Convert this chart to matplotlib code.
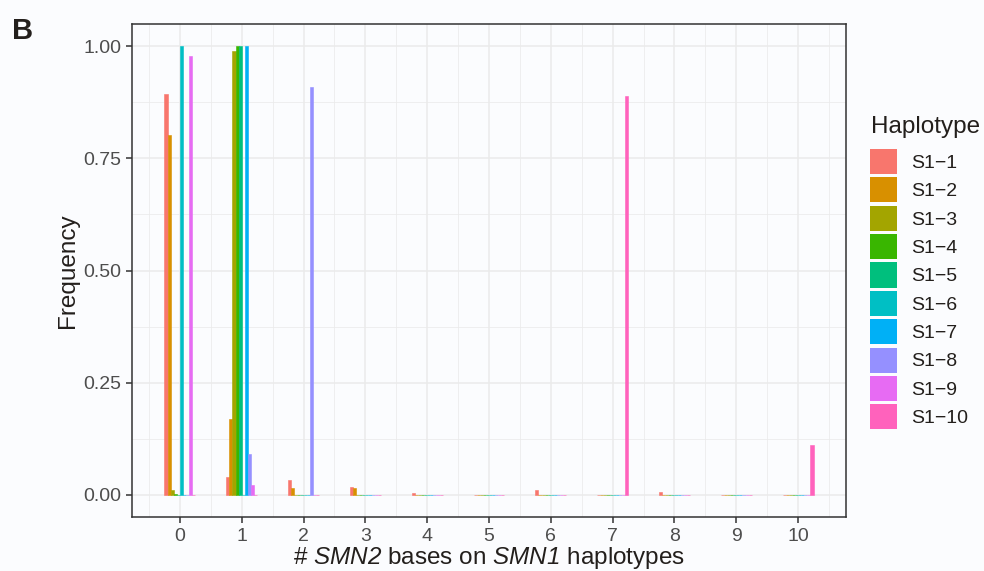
import numpy as np
import matplotlib
matplotlib.use("Agg")
import matplotlib.pyplot as plt
from matplotlib.patches import Patch
from matplotlib.ticker import MultipleLocator

plt.rcParams['font.family'] = ['Liberation Sans', 'DejaVu Sans']
plt.rcParams['mathtext.fontset'] = 'custom'
# italic gene names (digits included)
plt.rcParams['mathtext.rm'] = 'Liberation Sans:italic'
plt.rcParams['mathtext.it'] = 'Liberation Sans:italic'

# number of SMN2 bases (x positions)
n_bases = [0, 1, 2, 3, 4, 5, 6, 7, 8, 9, 10]

haplotypes = ['S1\u22121', 'S1\u22122', 'S1\u22123', 'S1\u22124', 'S1\u22125',
              'S1\u22126', 'S1\u22127', 'S1\u22128', 'S1\u22129', 'S1\u221210']

# frequency of each haplotype at each base count
s1_1 = [0.894, 0.039, 0.032, 0.017, 0.003, 0.0, 0.010, 0.0, 0.005, 0.0, 0.0]
s1_2 = [0.802, 0.168, 0.0145, 0.0145, 0.0, 0.0, 0.0, 0.0, 0.0, 0.0, 0.0]
s1_3 = [0.010, 0.990, 0.0, 0.0, 0.0, 0.0, 0.0, 0.0, 0.0, 0.0, 0.0]
s1_4 = [0.002, 1.000, 0.0, 0.0, 0.0, 0.0, 0.0, 0.0, 0.0, 0.0, 0.0]
s1_5 = [0.0, 1.000, 0.0, 0.0, 0.0, 0.0, 0.0, 0.0, 0.0, 0.0, 0.0]
s1_6 = [1.000, 0.0, 0.0, 0.0, 0.0, 0.0, 0.0, 0.0, 0.0, 0.0, 0.0]
s1_7 = [0.0, 1.000, 0.0, 0.0, 0.0, 0.0, 0.0, 0.0, 0.0, 0.0, 0.0]
s1_8 = [0.0, 0.090, 0.910, 0.0, 0.0, 0.0, 0.0, 0.0, 0.0, 0.0, 0.0]
s1_9 = [0.978, 0.021, 0.0, 0.0, 0.0, 0.0, 0.0, 0.0, 0.0, 0.0, 0.0]
s1_10 = [0.0, 0.0, 0.0, 0.0, 0.0, 0.0, 0.0, 0.889, 0.0, 0.0, 0.110]

freqs = [s1_1, s1_2, s1_3, s1_4, s1_5, s1_6, s1_7, s1_8, s1_9, s1_10]

colors = ['#F8766D', '#D89000', '#A3A500', '#39B600', '#00BF7D',
          '#00BFC4', '#00B0F6', '#9590FF', '#E76BF3', '#FF62BC']

bg = '#FBFCFE'
txt = '#231F1C'

fig = plt.figure(figsize=(9.84, 5.71), dpi=100, facecolor=bg)
ax = fig.add_axes([132 / 984, 54 / 571, 714 / 984, 493 / 571])
ax.set_facecolor(bg)

dodge = 0.5
w = dodge / len(haplotypes)
x = np.array(n_bases, dtype=float)
for i, (lab, vals) in enumerate(zip(haplotypes, freqs)):
    off = -dodge / 2 + w * (i + 0.5)
    ax.bar(x + off, vals, width=w, color=colors[i], edgecolor=colors[i],
           linewidth=0.4, zorder=2)

ax.set_xlim(-0.775, 10.775)
ax.set_ylim(-0.05, 1.05)
ax.set_xticks(n_bases)
ax.set_yticks([0, 0.25, 0.5, 0.75, 1.0])
ax.set_yticklabels(['0.00', '0.25', '0.50', '0.75', '1.00'])
ax.xaxis.set_minor_locator(MultipleLocator(0.5))
ax.yaxis.set_minor_locator(MultipleLocator(0.125))

ax.set_axisbelow(True)
ax.grid(which='major', color='#EBEBEB', linewidth=1.1)
ax.grid(which='minor', color='#EBEBEB', linewidth=0.55)

for sp in ax.spines.values():
    sp.set_color('#333333')
    sp.set_linewidth(1.1)

ax.tick_params(which='major', length=4.3, width=1.1, color='#333333',
               labelsize=14, labelcolor='#4D4D4D', pad=3.5)
ax.tick_params(which='minor', length=0)

ax.set_ylabel('Frequency', fontsize=17.5, color=txt, labelpad=3)
ax.set_xlabel(r'# $SMN2$ bases on $SMN1$ haplotypes',
              fontsize=17.5, color=txt, labelpad=0)

handles = [Patch(facecolor=c, edgecolor='none', label=l)
           for c, l in zip(colors, haplotypes)]
leg = fig.legend(handles=handles, loc='upper left',
                 bbox_to_anchor=(870 / 984, 1 - 149 / 571), frameon=False,
                 fontsize=14, handlelength=1.39, handleheight=1.606,
                 labelspacing=0.17, handletextpad=0.7,
                 borderpad=0, borderaxespad=0)
for t in leg.get_texts():
    t.set_color(txt)

fig.text(871 / 984, 1 - 133 / 571, 'Haplotype', fontsize=17.5, color=txt,
         ha='left', va='baseline')

fig.text(12 / 984, 1 - 39 / 571, 'B', fontsize=21, fontweight='bold',
         color=txt, ha='left', va='baseline')

fig.savefig('out.png', dpi=100, facecolor=bg)
